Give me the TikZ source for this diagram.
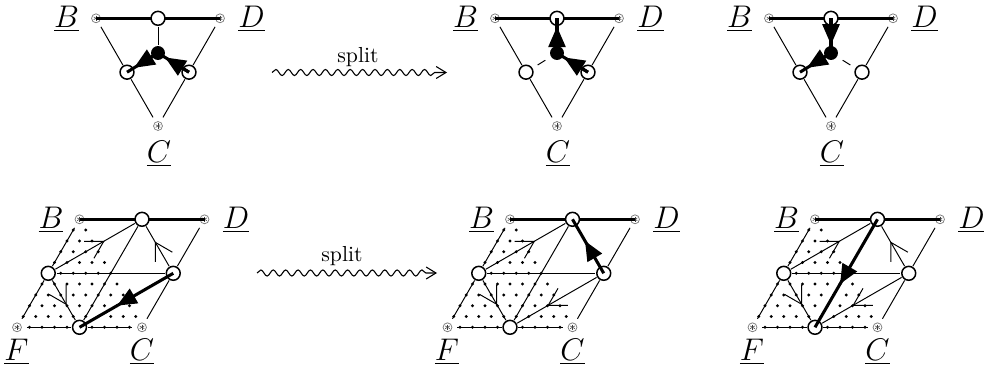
\documentclass[tikz,border=0pt]{standalone}
\usetikzlibrary{arrows.meta,decorations.pathmorphing,decorations.markings}

\newcommand\TopTri[2]{%
  \node[ast] (#1B) at ({#2-62},18.3) {};
  \node[ast] (#1D) at ({#2+62},18.3) {};
  \node[ast] (#1C) at ({#2},126) {};
  \draw[boldln] (#1B.center) -- (#1D.center);
  \node[ocirc] (#1T) at ({#2},18.3) {};
  \node[ocirc] (#1L) at ({#2-31},72.2) {};
  \node[ocirc] (#1R) at ({#2+31},72.2) {};
  \node[bdot] (#1M) at ({#2},53) {};
  \node[lab] (#1lB) at ({#2-91.5},27) {$\underline{B}$};
  \node[lab] (#1lD) at ({#2+93.5},27) {$\underline{D}$};
  \node[lab] (#1lC) at ({#2+1},162) {$\underline{C}$};
  \draw[thinln] (#1B) -- (#1L);
  \draw[thinln] (#1L) -- (#1C);
  \draw[thinln] (#1D) -- (#1R);
  \draw[thinln] (#1R) -- (#1C);
}

\newcommand\BotPar[2]{%
  \node[ast] (#1B) at ({#2},219.3) {};
  \node[ast] (#1D) at ({#2+125},219.3) {};
  \node[ast] (#1F) at ({#2-62.5},327.3) {};
  \node[ast] (#1C) at ({#2+62.5},327.3) {};
  \draw[boldln] (#1B.center) -- (#1D.center);
  \node[ocirc] (#1T) at ({#2+62.5},219.3) {};
  \node[ocirc] (#1L) at ({#2-31.25},273.3) {};
  \node[ocirc] (#1R) at ({#2+93.75},273.3) {};
  \node[ocirc] (#1U) at ({#2},327.3) {};
  \node[lab] (#1lB) at ({#2-28.5},228) {$\underline{B}$};
  \node[lab] (#1lD) at ({#2+156.5},228) {$\underline{D}$};
  \node[lab] (#1lF) at ({#2-63},360) {$\underline{F}$};
  \node[lab] (#1lC) at ({#2+62.5},360) {$\underline{C}$};
  \draw[thinln] (#1B) -- (#1L);
  \draw[thinln] (#1L) -- (#1F);
  \draw[thinln] (#1F) -- (#1U);
  \draw[thinln] (#1U) -- (#1C);
  \draw[thinln] (#1D) -- (#1R);
  \draw[thinln] (#1R) -- (#1C);
  \draw[thinln] (#1L) -- (#1R);
  \foreach \j in {1,...,10}{\foreach \i in {0,...,\j}{%
    \pgfmathtruncatemacro\skipit{(\i==0 && (\j==5 || \j==10)) || (\j==10 && (\i==5 || \i==10))}%
    \ifnum\skipit=0 \fill ({#2+12.5*\i-6.25*\j},{219.3+10.8*\j}) circle (0.75pt);\fi
  }}
}

\begin{document}
\begin{tikzpicture}[x=0.46pt,y=-0.46pt,
  every node/.style={inner sep=0pt},
  ocirc/.style={circle,draw,line width=0.7pt,fill=white,minimum size=6.4pt,outer sep=0.6pt},
  bdot/.style={circle,fill=black,minimum size=6.4pt,outer sep=0.6pt},
  ast/.style={circle,draw=gray,line width=0.35pt,fill=white,minimum size=4.1pt,outer sep=2.5pt,
    path picture={\foreach \a in {90,30,150}{\draw[line width=0.25pt,black!75]
      ([shift={(\a:1.25pt)}]path picture bounding box.center) -- ([shift={(\a+180:1.25pt)}]path picture bounding box.center);}}},
  lab/.style={anchor=base,font=\Large},
  thinln/.style={line width=0.45pt},
  gapln/.style={line width=0.45pt,shorten <=2.5pt,shorten >=2.5pt},
  boldln/.style={line width=1.2pt},
  thk/.style={line width=1.4pt},
  tipF/.style={-{Triangle[length=9.5pt,width=7.8pt]}},
  midF/.style={postaction={decorate},decoration={markings,mark=at position 0.6 with {\arrow{Triangle[length=9pt,width=7.5pt]}}}},
  midO/.style={postaction={decorate},decoration={markings,mark=at position 0.62 with {\arrow{Straight Barb[length=7.8pt,width=9pt]}}}},
  wave/.style={decorate,decoration={snake,amplitude=1.4pt,segment length=5.7pt,post length=3pt},line width=0.5pt,-{Straight Barb[length=4.5pt,width=5.5pt]}}
]
\useasboundingbox (0,0) rectangle (984,374);

% top row
\TopTri{a}{158}
\draw[thinln] (aT) -- (aM);
\draw[thk] (aM.center) -- (aL.center);
\draw[thk,tipF] (aM.center) -- (aL);
\draw[thk] (aR.center) -- (aM.center);
\draw[thk,tipF] (aR.center) -- (aM);

\TopTri{b}{557}
\draw[gapln] (bL) -- (bM);
\draw[thk] (bM.center) -- (bT.center);
\draw[thk,tipF] (bM.center) -- (bT);
\draw[thk] (bR.center) -- (bM.center);
\draw[thk,tipF] (bR.center) -- (bM);

\TopTri{c}{831}
\draw[gapln] (cM) -- (cR);
\draw[thk] (cT.center) -- (cM.center);
\draw[thk,tipF] (cT.center) -- (cM);
\draw[thk] (cM.center) -- (cL.center);
\draw[thk,tipF] (cM.center) -- (cL);

\coordinate (w1s) at (272,72.5);
\coordinate (w1e) at (447,72.5);
\draw[wave] (w1s) -- (w1e);
\node (s1) at (358,57) {split};

% bottom row
\BotPar{d}{79.5}
\draw[thinln,midO] (dL) -- (dT);
\draw[thinln] (dT) -- (dU);
\draw[thinln,midO] (dR) -- (dT);
\draw[thinln,midO] (dL) -- (dU);
\draw[thk,midF] (dR.center) -- (dU.center);

\BotPar{e}{510}
\draw[thinln,midO] (eL) -- (eT);
\draw[thinln] (eT) -- (eU);
\draw[thk,midF] (eR.center) -- (eT.center);
\draw[thinln,midO] (eL) -- (eU);
\draw[thinln,midO] (eR) -- (eU);

\BotPar{f}{815}
\draw[thinln,midO] (fL) -- (fT);
\draw[thk,midF] (fT.center) -- (fU.center);
\draw[thinln,midO] (fR) -- (fT);
\draw[thinln,midO] (fL) -- (fU);
\draw[thinln,midO] (fR) -- (fU);

\coordinate (w2s) at (257,273);
\coordinate (w2e) at (437,273);
\draw[wave] (w2s) -- (w2e);
\node (s2) at (342,256) {split};
\end{tikzpicture}
\end{document}
